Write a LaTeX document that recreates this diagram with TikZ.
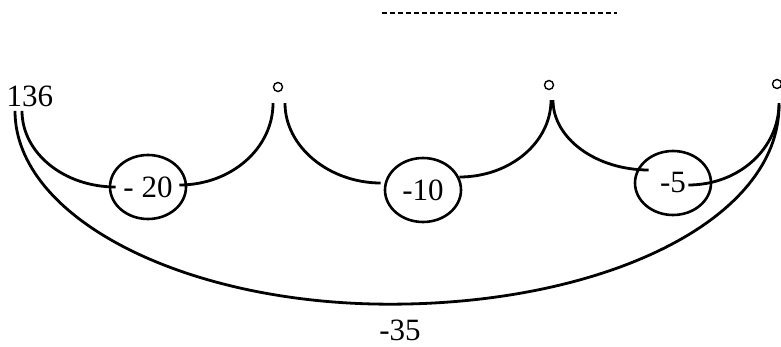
\documentclass[tikz,border=0pt]{standalone}
\usepackage{fontspec}
\setmainfont{Liberation Serif}
\usetikzlibrary{shapes.geometric,calc}

\begin{document}
\begin{tikzpicture}[
    x=0.5pt, y=-0.5pt,
    every node/.style={font=\fontsize{15.5}{18}\selectfont, inner sep=1pt},
    loss/.style={draw, ellipse, line width=1.3pt, minimum width=38pt, minimum height=32pt, inner sep=0pt},
    topdot/.style={draw, circle, line width=0.7pt, minimum size=4.5pt, inner sep=0pt},
    lossarc/.style={line width=1.4pt}
  ]
  \useasboundingbox (0,0) rectangle (781,347);

  % Nodes
  \node (start) at (30,96) {136};
  \node[topdot] (top1) at (278,87) {};
  \node[topdot] (top2) at (549,85) {};
  \node[topdot] (top3) at (777,84) {};

  \node[loss] (d20) at (148,187) {- 20};
  \node[loss] (d10) at (423,190) {-10};
  \node[loss] (d5) at (673,183) {-5};
  \node (total) at (400,330) {-35};

  \coordinate (ruleL) at (382,13);
  \coordinate (ruleR) at (617,13);
  \draw[line width=1pt, dash pattern=on 2.5pt off 1.5pt] (ruleL) -- (ruleR);

  % Arcs
  \draw[lossarc] ($(start.south)+(-8,2)$) .. controls +(0,42) and +(-52,0) .. ($(d20.west)+(7,0)$);
  \draw[lossarc] ($(d20.east)+(-8,-2)$) .. controls +(52,0) and +(0,45) .. ($(top1.south)+(-5,11)$);

  \draw[lossarc] ($(top1.south)+(7,11)$) .. controls +(0,44) and +(-51,0) .. ($(d10.west)+(-3,-7)$);
  \draw[lossarc] ($(d10.east)+(-3,-13)$) .. controls +(51,0) and +(0,42) .. ($(top2.south)+(2,10)$);

  \draw[lossarc] ($(top2.south)+(4,10)$) .. controls +(0,38) and +(-53,0) .. ($(d5.west)+(15,-13)$);
  \draw[lossarc] ($(d5.east)+(-24,2)$) .. controls +(51,0) and +(0,45) .. ($(top3.south)+(2,14)$);

  \draw[lossarc] ($(start.south)+(-15,2)$) .. controls +(0,107) and +(-206,0) .. ($(total.north)+(-10,-13)$)
    .. controls +(214,0) and +(0,115) .. ($(top3.south)+(2,16)$);
\end{tikzpicture}
\end{document}
